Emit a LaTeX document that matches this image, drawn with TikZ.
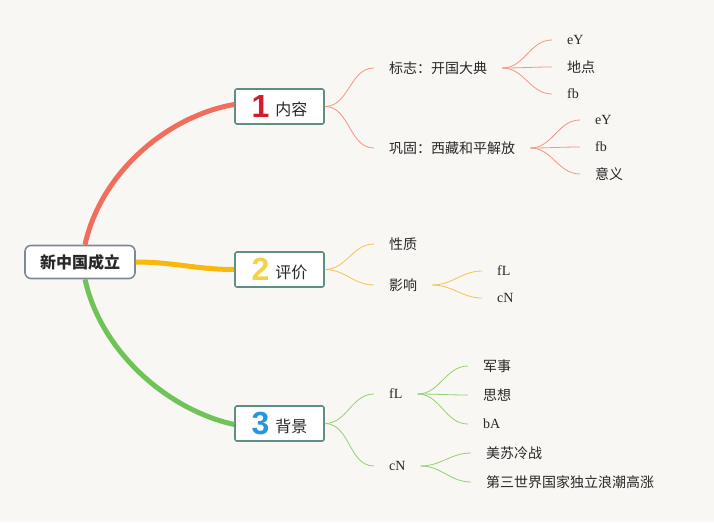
\documentclass[tikz,border=0pt]{standalone}
\usepackage{fontspec}
\setmainfont{Noto Sans CJK SC}
\newfontfamily\latinleaf{Liberation Serif}
\newfontfamily\numfont{Liberation Sans}
\usetikzlibrary{positioning}

\definecolor{paper}{RGB}{249,247,243}
\definecolor{ink}{RGB}{40,40,40}
\definecolor{rootline}{RGB}{125,135,152}
\definecolor{boxline}{RGB}{95,143,132}
\definecolor{trunkred}{RGB}{242,110,92}
\definecolor{trunkyellow}{RGB}{248,184,12}
\definecolor{trunkgreen}{RGB}{112,195,88}
\definecolor{twigred}{RGB}{244,150,130}
\definecolor{twigyellow}{RGB}{246,194,80}
\definecolor{twiggreen}{RGB}{146,208,116}
\definecolor{numred}{RGB}{208,30,45}
\definecolor{numyellow}{RGB}{240,212,70}
\definecolor{numblue}{RGB}{40,150,222}

\begin{document}
\begin{tikzpicture}[
    x=1pt, y=-1pt,
    every node/.style={font=\fontsize{14}{16}\selectfont, text=ink},
    rootbox/.style={
        draw=rootline,
        line width=1.6pt,
        fill=white,
        rounded corners=6pt,
        minimum width=110pt,
        minimum height=33pt,
        font=\fontsize{16}{18}\selectfont\bfseries
    },
    mainbox/.style={
        draw=boxline,
        line width=1.6pt,
        fill=white,
        rounded corners=2pt,
        inner sep=0pt,
        minimum width=89pt,
        minimum height=35pt,
        font=\fontsize{16}{18}\selectfont
    },
    topic/.style={anchor=west, inner xsep=15pt, inner ysep=2pt},
    leaf/.style={topic, font=\fontsize{14}{16}\selectfont\latinleaf},
    trunk/.style={line width=5pt},
    twig/.style={line width=0.8pt}
]

\fill[paper] (0,0) rectangle (714,522);

% root and the three numbered branches
\node[rootbox] (root) at (80,262) {新中国成立};

\node[mainbox] (content) at (279.5,106.5) {%
{\numfont\bfseries\fontsize{32}{32}\selectfont\color{numred}1}\hspace{6pt}\raisebox{2pt}{内容}};
\node[mainbox] (judge) at (279.5,269.5) {%
{\numfont\bfseries\fontsize{32}{32}\selectfont\color{numyellow}2}\hspace{6pt}\raisebox{2pt}{评价}};
\node[mainbox] (backgr) at (279.5,423.5) {%
{\numfont\bfseries\fontsize{32}{32}\selectfont\color{numblue}3}\hspace{6pt}\raisebox{2pt}{背景}};

\draw[trunk, trunkred] ([xshift=5pt]root.north) .. controls (101,172) and (168,116) .. ([yshift=2pt]content.west);
\draw[trunk, trunkyellow] (root.east) to[out=0, in=180] (judge.west);
\draw[trunk, trunkgreen] ([xshift=5pt]root.south) .. controls (101,352) and (168,410) .. ([yshift=-1pt]backgr.west);

% 1 内容
\node[topic] (mark) at (374,68) {标志：开国大典};
\node[topic] (consol) at (374,148) {巩固：西藏和平解放};
\node[leaf] (markA) at (552,40) {eY};
\node[topic] (markB) at (552,67) {地点};
\node[leaf] (markC) at (552,94) {fb};
\node[leaf] (consA) at (580,120) {eY};
\node[leaf] (consB) at (580,147) {fb};
\node[topic] (consC) at (580,174) {意义};

\foreach \c in {mark,consol}
    \draw[twig, twigred] (content.east) to[out=0, in=180] (\c.west);
\foreach \c in {markA,markB,markC}
    \draw[twig, twigred] (mark.east) to[out=0, in=180] (\c.west);
\foreach \c in {consA,consB,consC}
    \draw[twig, twigred] (consol.east) to[out=0, in=180] (\c.west);

% 2 评价
\node[topic] (nature) at (374,244) {性质};
\node[topic] (effect) at (374,285) {影响};
\node[leaf] (effA) at (482,271) {fL};
\node[leaf] (effB) at (482,298) {cN};

\foreach \c in {nature,effect}
    \draw[twig, twigyellow] (judge.east) to[out=0, in=180] (\c.west);
\foreach \c in {effA,effB}
    \draw[twig, twigyellow] (effect.east) to[out=0, in=180] (\c.west);

% 3 背景
\node[leaf] (home) at (374,394) {fL};
\node[leaf] (world) at (374,466) {cN};
\node[topic] (homeA) at (468,366) {军事};
\node[topic] (homeB) at (468,395) {思想};
\node[leaf] (homeC) at (468,424) {bA};
\node[topic] (worldA) at (471,453) {美苏冷战};
\node[topic] (worldB) at (471,482) {第三世界国家独立浪潮高涨};

\foreach \c in {home,world}
    \draw[twig, twiggreen] (backgr.east) to[out=0, in=180] (\c.west);
\foreach \c in {homeA,homeB,homeC}
    \draw[twig, twiggreen] (home.east) to[out=0, in=180] (\c.west);
\foreach \c in {worldA,worldB}
    \draw[twig, twiggreen] (world.east) to[out=0, in=180] (\c.west);

\end{tikzpicture}
\end{document}
